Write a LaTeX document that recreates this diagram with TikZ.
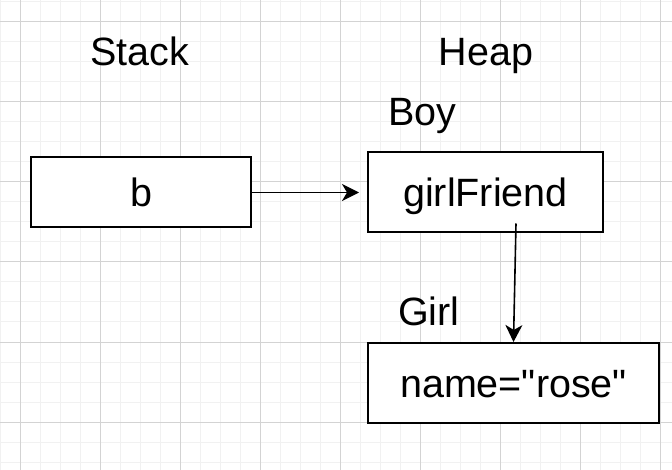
\documentclass[tikz,border=0pt]{standalone}
\usepackage{fontspec}
\setmainfont{Liberation Sans}[Ligatures=TeXOff]
\usetikzlibrary{arrows.meta}
\definecolor{minorgrid}{HTML}{F1F1F1}
\definecolor{majorgrid}{HTML}{D3D3D3}
\tikzset{
  bigfont/.style={font=\fontsize{39.5}{47}\selectfont},
  label text/.style={bigfont, inner sep=0pt, anchor=base},
  membox/.style={draw=black, line width=2pt, fill=white, bigfont, inner sep=0pt,
    text height=28pt, text depth=0pt},
  ptr/.style={line width=1.6pt, -{Stealth[length=17pt, width=17pt, inset=5pt]}},
}
\begin{document}
\begin{tikzpicture}[x=1pt,y=-1pt]
\useasboundingbox (0,0) rectangle (672,470);
\fill[white] (0,0) rectangle (672,470);
% grid
\foreach \x in {0,20,...,660} \draw[minorgrid, line width=1pt] (\x,0) -- (\x,470);
\foreach \y in {2,22,...,462} \draw[minorgrid, line width=1pt] (0,\y) -- (672,\y);
\foreach \x in {20,100,...,660} \draw[majorgrid, line width=1pt] (\x,0) -- (\x,470);
\foreach \y in {22,102,...,422} \draw[majorgrid, line width=1pt] (0,\y) -- (672,\y);
% labels
\node[label text] (stack) at (140,66) {Stack};
\node[label text] (heap) at (486,66) {Heap};
\node[label text, anchor=base west] (boy) at (388,126) {Boy};
\node[label text, anchor=base west] (girl) at (398,326) {Girl};
% boxes
\node[membox, minimum width=220pt, minimum height=70pt] (b) at (141,192.5) {b};
\node[membox, minimum width=235pt, minimum height=80pt] (gf) at (485.5,192.5) {girlFriend};
\node[membox, minimum width=291pt, minimum height=80pt] (nm) at (513.5,383) {name="rose"};
% connectors
\coordinate (gfin) at ([xshift=-8pt]gf.west);
\coordinate (gfout) at ([xshift=30.5pt,yshift=10pt]gf.south);
\draw[ptr] (b.east) -- (gfin);
\draw[ptr] (gfout) -- (nm.north);
\end{tikzpicture}
\end{document}
